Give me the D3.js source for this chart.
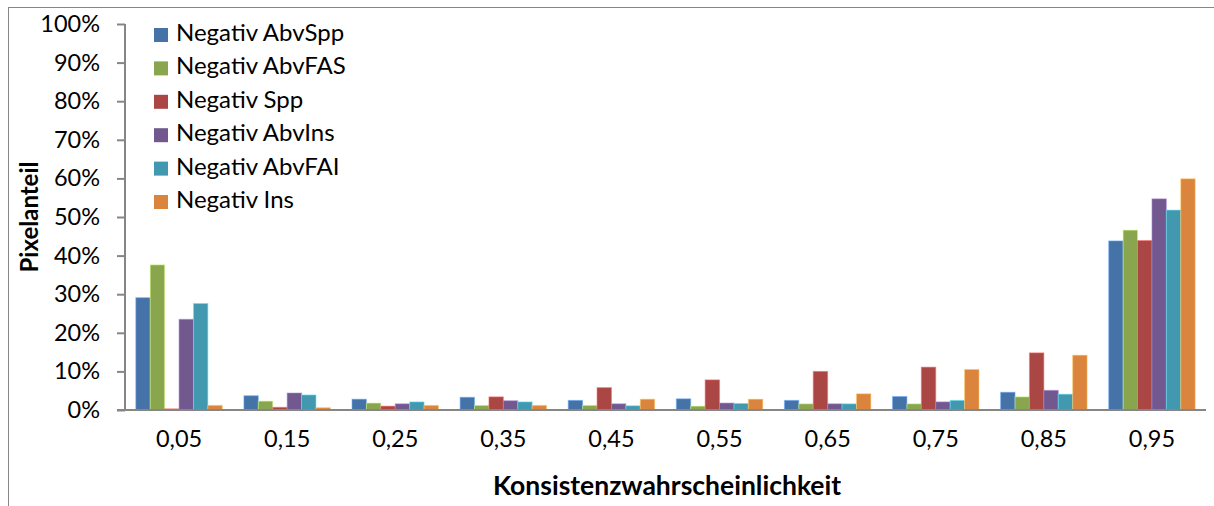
<!DOCTYPE html>
<html>
<head>
<meta charset="utf-8">
<script src="https://cdn.jsdelivr.net/npm/d3@7/dist/d3.min.js"></script>
<style>
  html, body { margin: 0; padding: 0; background: #fff; }
  svg { display: block; font-family: Lato, "Open Sans", sans-serif; }
</style>
</head>
<body>
<svg id="chart" width="1214" height="506"></svg>
<script>
// Bin centres of the consistency probability
const categories = ["0,05", "0,15", "0,25", "0,35", "0,45", "0,55", "0,65", "0,75", "0,85", "0,95"];

const seriesNames = ["Negativ AbvSpp", "Negativ AbvFAS", "Negativ Spp", "Negativ AbvIns", "Negativ AbvFAI", "Negativ Ins"];
const seriesColors = ["#4572A7", "#89A54E", "#AA4643", "#71588F", "#4198AF", "#DB843D"];

// Pixel share per bin (fractions)
const negAbvSpp = [0.291, 0.037, 0.028, 0.033, 0.025, 0.029, 0.025, 0.035, 0.046, 0.438];
const negAbvFAS = [0.376, 0.023, 0.018, 0.012, 0.012, 0.010, 0.016, 0.016, 0.034, 0.466];
const negSpp    = [0.003, 0.007, 0.010, 0.034, 0.058, 0.078, 0.100, 0.111, 0.148, 0.439];
const negAbvIns = [0.235, 0.044, 0.016, 0.024, 0.016, 0.018, 0.016, 0.021, 0.051, 0.547];
const negAbvFAI = [0.276, 0.039, 0.021, 0.021, 0.011, 0.017, 0.016, 0.025, 0.041, 0.518];
const negIns    = [0.012, 0.006, 0.012, 0.012, 0.028, 0.028, 0.042, 0.105, 0.142, 0.599];

const yTicks = [0, 0.1, 0.2, 0.3, 0.4, 0.5, 0.6, 0.7, 0.8, 0.9, 1.0];

const seriesValues = [negAbvSpp, negAbvFAS, negSpp, negAbvIns, negAbvFAI, negIns];

const svg = d3.select("#chart");

// outer chart frame
svg.append("rect")
  .attr("x", 8.5).attr("y", 7.5)
  .attr("width", 1214).attr("height", 520)
  .attr("fill", "none").attr("stroke", "#868686").attr("stroke-width", 1);

const plot = { left: 125, right: 1206, top: 24, bottom: 410 };

const x = d3.scaleBand().domain(categories).range([plot.left, plot.right]).padding(0);
const xs = d3.scaleBand().domain(seriesNames).range([0, x.bandwidth()])
  .paddingInner(0).paddingOuter(0.75);
const y = d3.scaleLinear().domain([0, 1]).range([plot.bottom, plot.top]);

// bars
const groups = svg.append("g").selectAll("g")
  .data(seriesNames.map((name, i) => ({ name, color: seriesColors[i], values: seriesValues[i] })))
  .join("g")
  .attr("fill", d => d.color);

groups.selectAll("rect")
  .data(d => d.values.map((v, j) => ({ name: d.name, cat: categories[j], v, color: d.color })))
  .join("rect")
  .attr("x", d => x(d.cat) + xs(d.name))
  .attr("y", d => y(d.v))
  .attr("width", xs.bandwidth())
  .attr("height", d => y(0) - y(d.v))
  .attr("stroke", d => d3.color(d.color).brighter(1.2))
  .attr("stroke-opacity", 0.55)
  .attr("stroke-width", 1);

// y axis
const yAxis = d3.axisLeft(y)
  .tickValues(yTicks)
  .tickFormat(d => Math.round(d * 100) + "%")
  .tickSize(8)
  .tickPadding(17);

const gy = svg.append("g")
  .attr("transform", `translate(${plot.left},0)`)
  .call(yAxis);
gy.select(".domain").attr("stroke", "#868686").attr("stroke-width", 2)
  .attr("d", `M0,${plot.top}V${plot.bottom}`);
gy.selectAll(".tick line").attr("stroke", "#868686").attr("stroke-width", 2);
gy.selectAll(".tick text")
  .attr("fill", "#000")
  .style("font-family", "Lato, sans-serif")
  .style("font-size", "23.5px");

// x axis
const xAxis = d3.axisBottom(x).tickSize(0).tickPadding(20);
const gx = svg.append("g")
  .attr("transform", `translate(0,${plot.bottom})`)
  .call(xAxis);
gx.select(".domain").attr("stroke", "#868686").attr("stroke-width", 2)
  .attr("d", `M${plot.left - 8},0H${plot.right}`);
gx.selectAll(".tick text")
  .attr("fill", "#000")
  .style("font-family", "Lato, sans-serif")
  .style("font-size", "23.5px");

// axis titles
svg.append("text")
  .attr("x", 667).attr("y", 488)
  .attr("text-anchor", "middle").attr("dominant-baseline", "middle")
  .style("font-size", "26.5px").style("font-weight", "bold")
  .text("Konsistenzwahrscheinlichkeit");

svg.append("text")
  .attr("transform", "translate(32,217) rotate(-90)")
  .attr("text-anchor", "middle").attr("dominant-baseline", "middle")
  .style("font-size", "24px").style("font-weight", "bold")
  .text("Pixelanteil");

// legend
const legend = svg.append("g").attr("transform", "translate(154,35)");
const items = legend.selectAll("g")
  .data(seriesNames)
  .join("g")
  .attr("transform", (d, i) => `translate(0,${i * 33.4})`);
items.append("rect")
  .attr("x", 0).attr("y", -7)
  .attr("width", 14).attr("height", 14)
  .attr("fill", (d, i) => seriesColors[i]);
items.append("text")
  .attr("x", 22).attr("y", 0)
  .attr("dominant-baseline", "middle")
  .style("font-size", "24px")
  .text(d => d);
</script>
</body>
</html>
